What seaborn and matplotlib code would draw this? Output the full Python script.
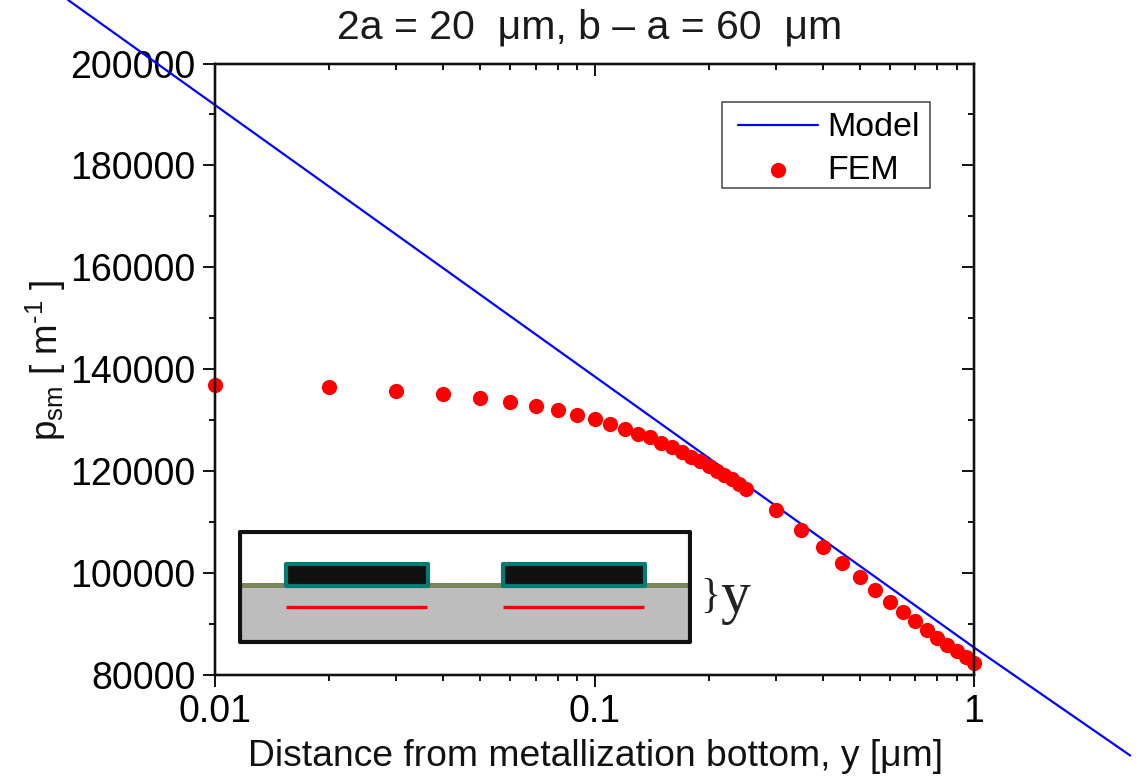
import matplotlib
matplotlib.use("Agg")
import matplotlib.pyplot as plt
from matplotlib.patches import Rectangle
from matplotlib.ticker import FixedLocator, FixedFormatter, NullFormatter
import seaborn as sns
import pandas as pd

# ---- data ----
model_x = [0.0041, 0.01, 0.1, 1.0, 2.58]
model_y = [212470, 191850, 138600, 85400, 64200]
fem_x = [0.01, 0.02, 0.03, 0.04, 0.05, 0.06, 0.07, 0.08, 0.09, 0.1,
         0.11, 0.12, 0.13, 0.14, 0.15, 0.16, 0.17, 0.18, 0.19, 0.2,
         0.21, 0.22, 0.23, 0.24, 0.25, 0.3, 0.35, 0.4, 0.45, 0.5,
         0.55, 0.6, 0.65, 0.7, 0.75, 0.8, 0.85, 0.9, 0.95, 1.0]
fem_y = [136960, 136430, 135780, 135120, 134410, 133620, 132840, 131910, 131070, 130140,
         129160, 128280, 127390, 126610, 125620, 124700, 123720, 122870, 121950, 121100,
         120120, 119340, 118550, 117570, 116450, 112400, 108530, 105130, 101910, 99160,
         96600, 94320, 92280, 90510, 88880, 87310, 85930, 84750, 83440, 82260]
x_major = [0.01, 0.1, 1]
x_major_labels = ["0.01", "0.1", "1"]
x_minor = [m * d for d in (0.01, 0.1) for m in range(2, 10)]
y_major = [80000, 100000, 120000, 140000, 160000, 180000, 200000]
y_minor = [90000, 110000, 130000, 150000, 170000, 190000]

W, H = 1139, 777
sns.set_theme(style="ticks")
plt.rcParams["font.family"] = ["Liberation Sans", "DejaVu Sans"]
plt.rcParams["mathtext.fontset"] = "custom"
plt.rcParams["mathtext.rm"] = "Liberation Sans"
plt.rcParams["mathtext.it"] = "Liberation Sans"
plt.rcParams["mathtext.default"] = "rm"

fig = plt.figure(figsize=(W / 100, H / 100), dpi=100, facecolor="white")
L, R, T, B = 215, 974, 63.5, 675
ax = fig.add_axes([L / W, 1 - B / H, (R - L) / W, (B - T) / H])
model = pd.DataFrame({"x": model_x, "y": model_y})
fem = pd.DataFrame({"x": fem_x, "y": fem_y})
sns.lineplot(data=model, x="x", y="y", ax=ax, color="#0000FF", lw=1.6, label="Model",
             clip_on=False, zorder=3, errorbar=None, sort=False)
sns.scatterplot(data=fem, x="x", y="y", ax=ax, color="#FF0000", s=120, linewidth=0,
                label="FEM", clip_on=False, zorder=4)
ax.set_xscale("log")
ax.set_xlim(0.01, 1)
ax.set_ylim(80000, 200000)


def style_ticks(a, which_axis, direction):
    axis = a.xaxis if which_axis == "x" else a.yaxis
    if which_axis == "x":
        axis.set_major_locator(FixedLocator(x_major))
        axis.set_minor_locator(FixedLocator(x_minor))
        axis.set_major_formatter(FixedFormatter(x_major_labels))
    else:
        axis.set_major_locator(FixedLocator(y_major))
        axis.set_minor_locator(FixedLocator(y_minor))
    axis.set_minor_formatter(NullFormatter())
    a.tick_params(axis=which_axis, which="major", direction=direction, length=8.6, width=1.4,
                  color="#111111", labelsize=27, labelcolor="black", pad=3)
    a.tick_params(axis=which_axis, which="minor", direction=direction, length=4.4, width=1.4,
                  color="#111111")


style_ticks(ax, "x", "out")
style_ticks(ax, "y", "out")
ax.tick_params(axis="x", which="major", pad=5)
ax.tick_params(axis="y", which="major", pad=5.4)

axr = ax.twinx()
axr.set_ylim(80000, 200000)
style_ticks(axr, "y", "in")
axr.tick_params(axis="y", which="both", labelright=False)
axr.grid(False)
axt = ax.twiny()
axt.set_xscale("log")
axt.set_xlim(0.01, 1)
style_ticks(axt, "x", "in")
axt.tick_params(axis="x", which="both", labeltop=False)
axt.grid(False)
for a in (ax, axr, axt):
    for s in a.spines.values():
        s.set_visible(True)
        s.set_linewidth(1.6)
        s.set_color("#111111")

ax.set_xlabel("Distance from metallization bottom, y [\u03bcm]", fontsize=26.8, color="#111111")
ax.xaxis.set_label_coords((595 - L) / (R - L), -(739 - B) / (B - T), transform=ax.transAxes)
ax.set_ylabel(r"p$_{\mathrm{sm}}$ [ m$^{\text{-1}}$ ]", fontsize=26.5, color="#111111")
ax.yaxis.set_label_coords(-(L - 68) / (R - L), (B - 360) / (B - T), transform=ax.transAxes)
fig.text(590 / W, 1 - 28 / H, "2a = 20  \u03bcm, b \u2013 a = 60  \u03bcm", fontsize=29.5,
         ha="center", va="center", color="#1a1a1a")

leg = ax.legend(loc="upper left", bbox_to_anchor=(722 / W, 1 - 105 / H), bbox_transform=fig.transFigure,
                fontsize=24.5, frameon=False, borderpad=0.22, borderaxespad=0, labelspacing=0.34,
                handlelength=2.6, handletextpad=0.27)
for t in leg.get_texts():
    t.set_color("black")
leg.set_zorder(10)
line_handle, dot_handle = leg.legend_handles
line_y = line_handle.get_ydata()[0]
line_handle.set_data([6.0, 63.6], [line_y, line_y])
dot_handle.set_offsets([[34.8, dot_handle.get_offsets()[0][1]]])
ax.add_patch(Rectangle((722 / W, 1 - 188 / H), 208 / W, 86 / H, transform=fig.transFigure, fc="white",
                       ec="#444444", lw=1.1, zorder=9))

# schematic inset of the metallization, in pixel-like units
ins = fig.add_axes([238 / W, 1 - 645 / H, 454 / W, 115 / H])
ins.set_xlim(238, 692)
ins.set_ylim(645, 530)
ins.set_axis_off()
ins.add_patch(Rectangle((240, 585.5), 450, 56, fc="#BDBDBD", ec="none"))
ins.add_patch(Rectangle((240, 583), 450, 4.5, fc="#7A8559", ec="none"))
for x0 in (286, 503):
    ins.add_patch(Rectangle((x0, 564), 142, 21.5, fc="#111111", ec="#047A72", lw=3.0, joinstyle="round"))
    ins.plot([x0, x0 + 141], [607, 607], color="#FF0000", lw=2.4, solid_capstyle="butt")
ins.add_patch(Rectangle((240, 532), 450, 110, fc="none", ec="#111111", lw=3.0, joinstyle="round"))

fig.text(710 / W, 1 - 597 / H, "}", fontsize=30, family="Liberation Serif", ha="center", va="center", color="#222222")
fig.text(735 / W, 1 - 598 / H, "y", fontsize=43, family="Liberation Serif", ha="center", va="center", color="#222222")

fig.savefig("out.png", dpi=100, facecolor="white")
